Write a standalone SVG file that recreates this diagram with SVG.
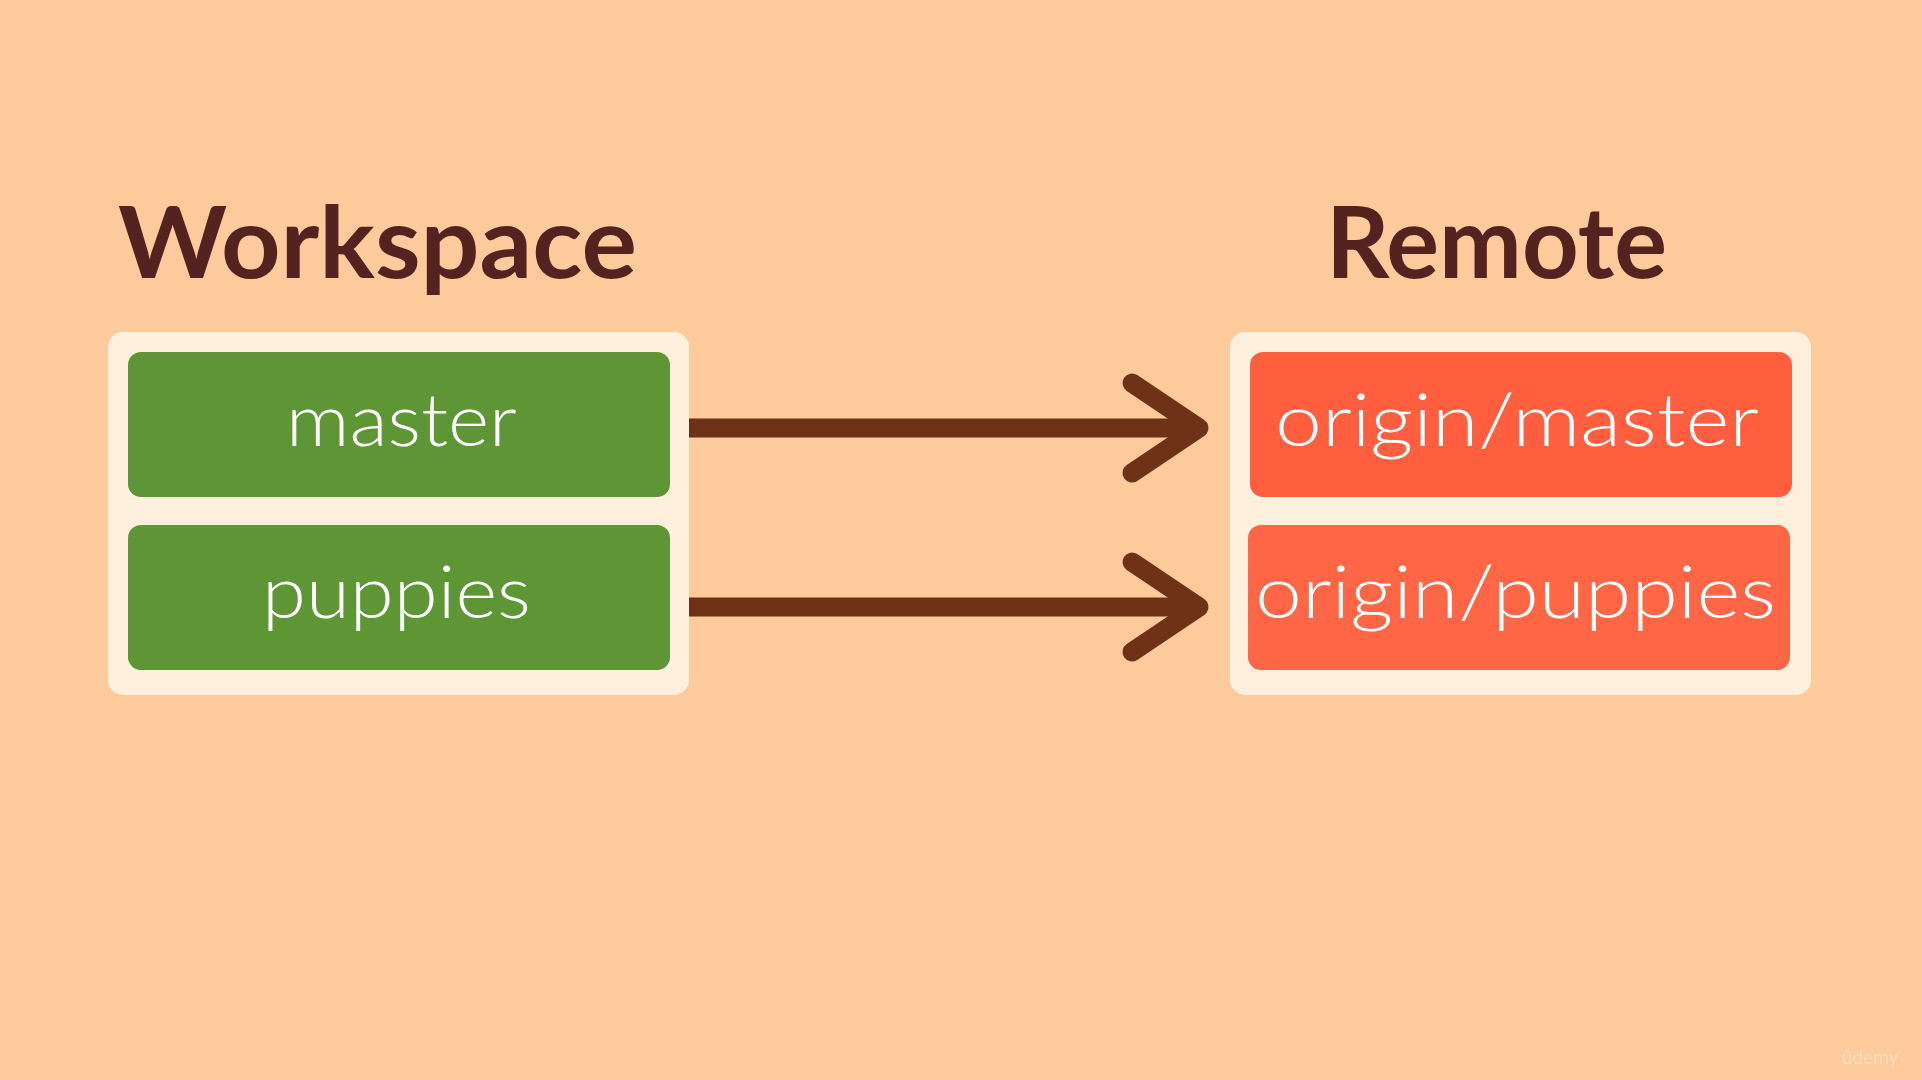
<svg xmlns="http://www.w3.org/2000/svg" width="1922" height="1080" viewBox="0 0 1922 1080">
  <defs>
    <style>
      .title { font-family: Lato, "Noto Sans", "Liberation Sans", sans-serif; font-weight: 700; font-size: 100px; fill: #55231f; }
      .panel { fill: #fef0dd; }
      .local { fill: #5e9535; }
      .remote { fill: #ff5e3f; }
      .label { font-family: Lato, "Open Sans", "Liberation Sans", sans-serif; font-weight: 300; font-size: 72px; fill: #ffffff; }
      .arrow { stroke: #6f3216; stroke-width: 19; fill: none; stroke-linecap: round; stroke-linejoin: round; }
      .shaft { stroke: #6f3216; stroke-width: 19; fill: none; }
    </style>
  </defs>
  <rect width="1922" height="1080" fill="#fdcb9b"/>

  <g id="title-workspace">
    <text class="title" x="118" y="278" textLength="519" lengthAdjust="spacingAndGlyphs">Workspace</text>
  </g>
  <g id="title-remote">
    <text class="title" x="1326" y="278" textLength="341" lengthAdjust="spacingAndGlyphs">Remote</text>
  </g>

  <g id="workspace">
    <rect class="panel" x="108" y="332" width="581" height="363" rx="15"/>
    <g id="node-master">
      <rect class="local" x="128" y="352" width="542" height="145" rx="13"/>
      <text class="label" x="286" y="446" textLength="231" lengthAdjust="spacingAndGlyphs">master</text>
    </g>
    <g id="node-puppies">
      <rect class="local" x="128" y="525" width="542" height="145" rx="13"/>
      <text class="label" x="262" y="618" textLength="269" lengthAdjust="spacingAndGlyphs">puppies</text>
    </g>
  </g>

  <g id="remote">
    <rect class="panel" x="1230" y="332" width="581" height="363" rx="15"/>
    <g id="node-origin-master">
      <rect class="remote" x="1250" y="352" width="542" height="145" rx="13"/>
      <text class="label" x="1275" y="446" textLength="484" lengthAdjust="spacingAndGlyphs">origin/master</text>
    </g>
    <g id="node-origin-puppies">
      <rect x="1248" y="525" width="542" height="145" rx="13" fill="#ff6645"/>
      <text class="label" x="1255" y="618" textLength="521" lengthAdjust="spacingAndGlyphs">origin/puppies</text>
    </g>
  </g>

  <g id="connectors">
    <g id="arrow-master">
      <line class="shaft" x1="689" y1="428" x2="1194" y2="428"/>
      <polyline class="arrow" points="1132,383 1199,428 1132,473"/>
    </g>
    <g id="arrow-puppies">
      <line class="shaft" x1="689" y1="607" x2="1194" y2="607"/>
      <polyline class="arrow" points="1132,562 1199,607 1132,652"/>
    </g>
  </g>

  <text x="1842" y="1064" font-family="Lato, 'Liberation Sans', sans-serif" font-size="19" fill="#f6dcbc">ûdemy</text>
</svg>
